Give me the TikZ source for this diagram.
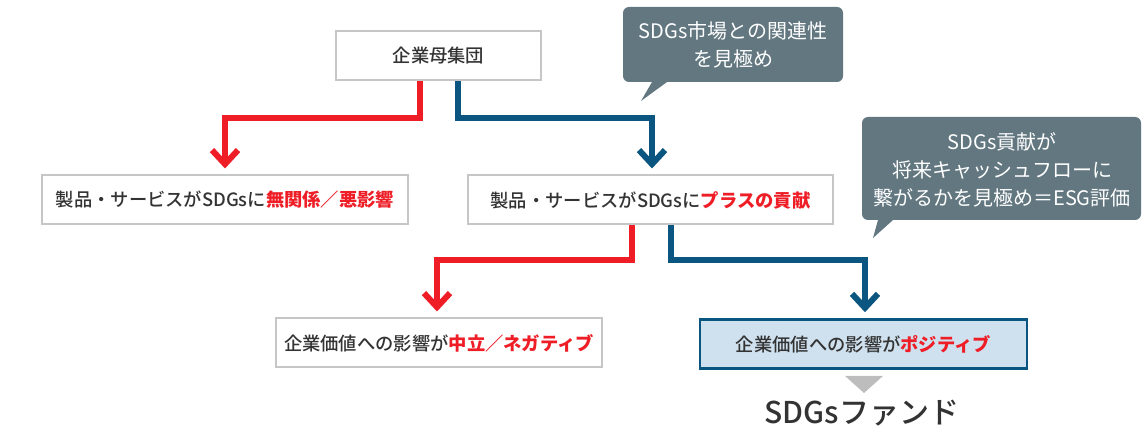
\documentclass[tikz,border=0pt]{standalone}
\usepackage{fontspec}
\setmainfont{Noto Sans CJK JP}[BoldFont={Noto Sans CJK JP Bold}]
\newfontfamily\medfont{Noto Sans CJK JP Medium}
\usetikzlibrary{arrows.meta}
\definecolor{txt}{HTML}{333333}
\definecolor{hired}{HTML}{EE1D26}
\definecolor{lred}{HTML}{EE1D26}
\definecolor{lblue}{HTML}{0B5680}
\definecolor{bord}{HTML}{C6C6C6}
\definecolor{bluefill}{HTML}{CFE1EE}
\definecolor{callfill}{HTML}{627780}
\definecolor{trigray}{HTML}{BDBDBE}
\tikzset{
  box/.style={draw=bord, line width=2pt, fill=white, text=txt, font=\medfont\fontsize{18.3}{20}\selectfont, minimum height=49pt, inner sep=0pt},
  goodbox/.style={box, draw=lblue, line width=2.5pt, fill=bluefill},
  redline/.style={draw=lred, line width=6pt, -{Straight Barb[length=14pt,width=26pt]}},
  blueline/.style={draw=lblue, line width=6pt, -{Straight Barb[length=14pt,width=26pt]}},
  calltext/.style={text=white, align=center, font=\fontsize{20}{28}\selectfont, inner sep=0pt},
}
\newcommand{\hl}[1]{\textcolor{hired}{\bfseries #1}}
\begin{document}
\begin{tikzpicture}[x=1pt,y=-1pt]
\useasboundingbox (0,0) rectangle (1144,430);
% boxes
\node[box, minimum width=205pt] (top) at (438.5,56) {企業母集団};
\node[box, minimum width=366pt] (l1) at (225,200) {製品・サービスがSDGsに\hl{無関係／悪影響}};
\node[box, minimum width=365pt] (m1) at (650.5,200) {製品・サービスがSDGsに\hl{プラスの貢献}};
\node[box, minimum width=326pt] (l2) at (439,343) {企業価値への影響が\hl{中立／ネガティブ}};
\node[goodbox, minimum width=327pt] (r2) at (863.5,344) {企業価値への影響が\hl{ポジティブ}};
% connectors
\draw[redline] ([xshift=-18.5pt]top.south) -- ++(0,37) -| ([yshift=6pt]l1.north);
\draw[blueline] ([xshift=19.5pt]top.south) -- ++(0,37) -| ([xshift=1.5pt,yshift=6pt]m1.north);
\draw[redline] ([xshift=-18.5pt]m1.south) -- ++(0,35) -| ([xshift=-2pt,yshift=6pt]l2.north);
\draw[blueline] ([xshift=20.5pt]m1.south) -- ++(0,35) -| ([xshift=1.5pt,yshift=6pt]r2.north);
% result
\fill[trigray] (845,376) -- (883,376) -- (864,393) -- cycle;
\node[text=txt, font=\medfont\fontsize{30}{32}\selectfont, inner sep=0pt] (fund) at (862,413) {SDGsファンド};
% callout 1
\fill[callfill] (733,7) [rounded corners=6pt] -- (843,7) -- (843,82) [sharp corners] -- (667,82) -- (641,101) -- (652,82) [rounded corners=6pt] -- (623,82) -- (623,7) -- (733,7);
\node[calltext] (c1) at (733,45) {SDGs市場との関連性\\を見極め};
% callout 2
\fill[callfill] (1000,117) [rounded corners=6pt] -- (1141,117) -- (1141,220) [sharp corners] -- (893,220) -- (873,238) -- (878,220) [rounded corners=6pt] -- (862,220) -- (862,117) -- (1000,117);
\node[calltext] (c2) at (1002,170) {SDGs貢献が\\将来キャッシュフローに\\繋がるかを見極め＝ESG評価};
\end{tikzpicture}
\end{document}
